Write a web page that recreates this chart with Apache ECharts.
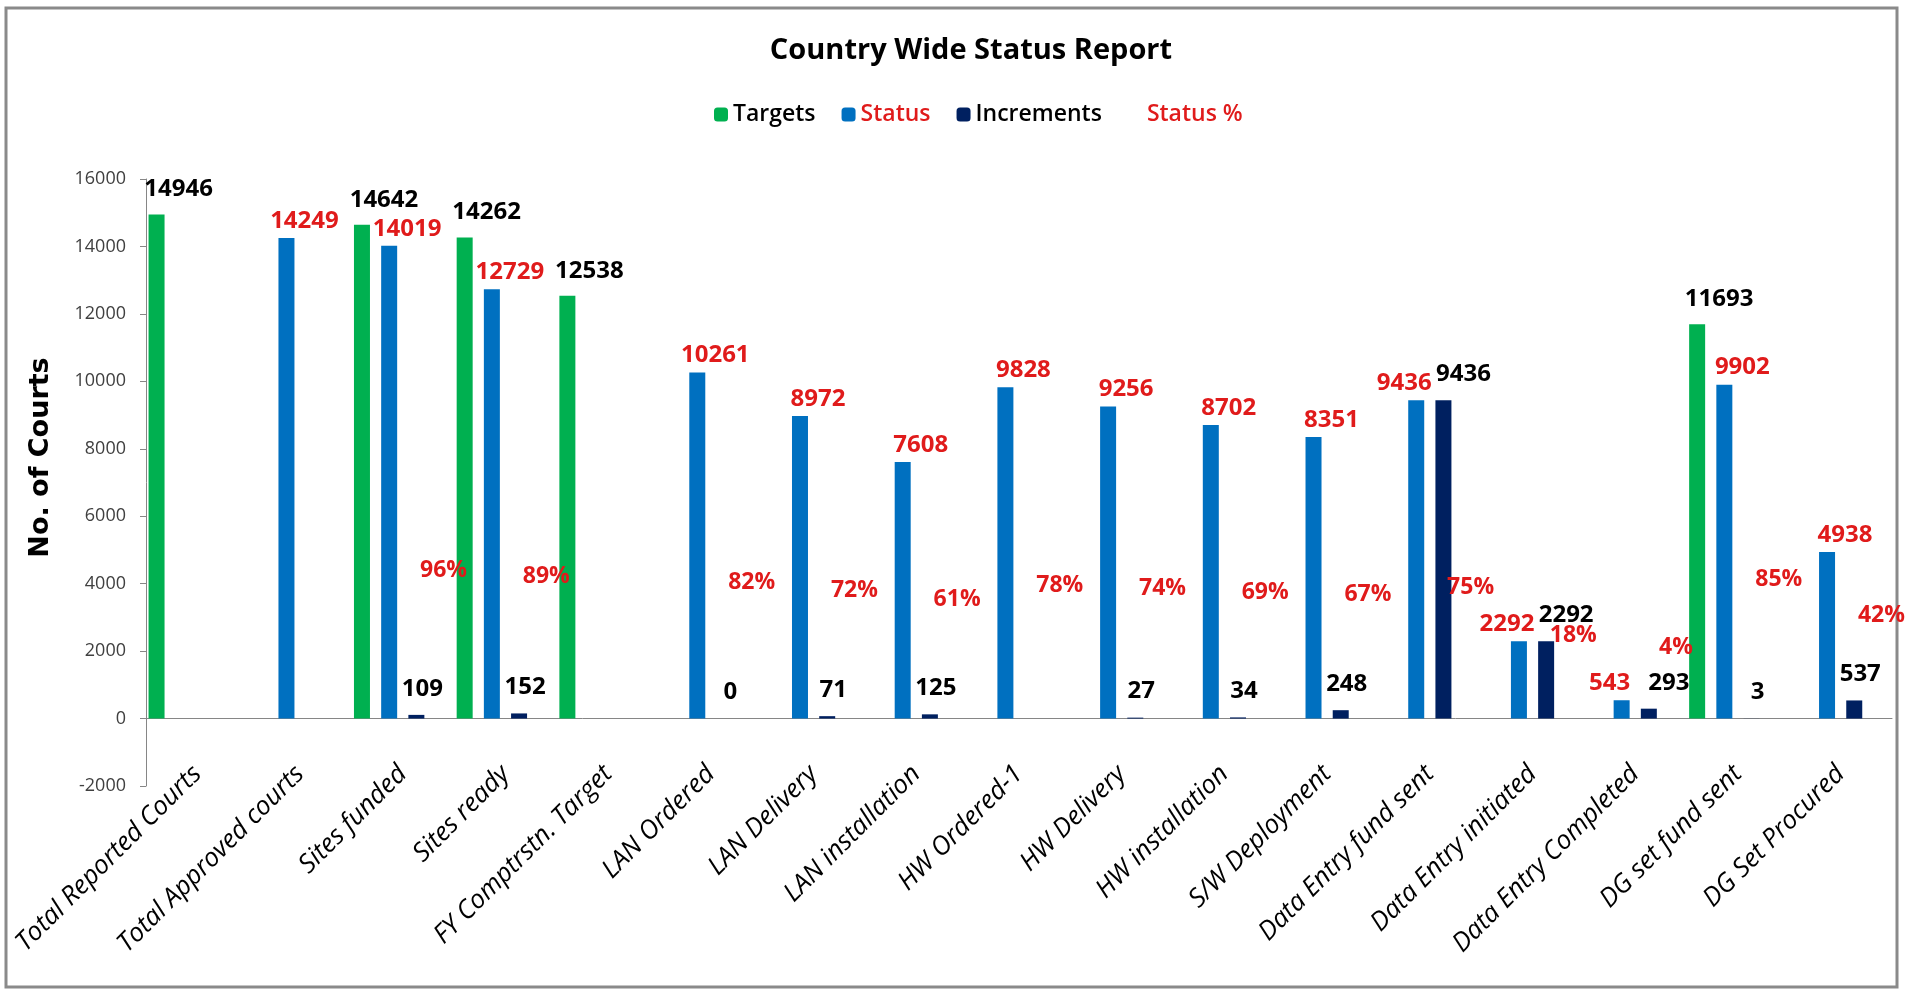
<!DOCTYPE html>
<html>
<head>
<meta charset="utf-8">
<title>Country Wide Status Report</title>
<script src="https://cdn.jsdelivr.net/npm/echarts@6/dist/echarts.min.js"></script>
<style>
  html, body { margin: 0; padding: 0; background: #fff; }
  #main { width: 1906px; height: 990px; }
</style>
</head>
<body>
<div id="main"></div>
<script>
var categories = ['Total Reported Courts', 'Total Approved courts', 'Sites funded', 'Sites ready',
  'FY Comptrstn. Target', 'LAN Ordered', 'LAN Delivery', 'LAN installation', 'HW Ordered-1',
  'HW Delivery', 'HW installation', 'S/W Deployment', 'Data Entry fund sent', 'Data Entry initiated',
  'Data Entry Completed', 'DG set fund sent', 'DG Set Procured']
var targetData = [14946, null, 14642, 14262, 12538, null, null, null, null, null, null, null, null, null, null, 11693, null]
var statusData = [null, 14249, 14019, 12729, null, 10261, 8972, 7608, 9828, 9256, 8702, 8351, 9436, 2292, 543, 9902, 4938]
var incrementData = [null, null, 109, 152, null, 0, 71, 125, null, 27, 34, 248, 9436, 2292, 293, 3, 537]
var statusPct = [null, null, 96, 89, null, 82, 72, 61, 78, 74, 69, 67, 75, 18, 4, 85, 42]
var yMin = -2000
var yMax = 16000
var yStep = 2000

var RED = '#E01B1B'
var labelFont = { fontFamily: 'Open Sans', fontWeight: 'bold', fontSize: 24 }

// status and increment labels push apart when both bars end at about the same height
function closeTwin (i) {
  var s = statusData[i]
  var inc = incrementData[i]
  return s != null && inc != null && Math.abs(s - inc) < 800
}

var myChart = echarts.init(document.getElementById('main'))
myChart.setOption({
  backgroundColor: '#fff',
  animation: false,
  title: {
    text: 'Country Wide Status Report',
    left: 966,
    top: 31,
    textAlign: 'center',
    textStyle: { fontFamily: 'Open Sans', fontWeight: 'bold', fontSize: 29, color: '#000' }
  },
  legend: {
    left: 709,
    top: 98,
    itemWidth: 14,
    itemHeight: 14,
    itemGap: 26,
    textStyle: { fontFamily: 'Open Sans', fontWeight: 600, fontSize: 23 },
    data: [
      { name: 'Targets', textStyle: { color: '#000' } },
      { name: 'Status', textStyle: { color: RED } },
      { name: 'Increments', textStyle: { color: '#000' } },
      { name: 'Status %', icon: 'none', textStyle: { color: RED } }
    ]
  },
  graphic: [
    {
      type: 'rect',
      shape: { x: 6, y: 8, width: 1891, height: 979 },
      style: { fill: 'none', stroke: '#8a8a8a', lineWidth: 3 },
      silent: true
    }
  ],
  grid: {
    left: 146,
    right: 14,
    top: 179,
    bottom: 204,
    containLabel: false,
    outerBoundsMode: 'none'
  },
  xAxis: {
    type: 'category',
    data: categories,
    axisLine: { onZero: true, lineStyle: { color: '#868686' } },
    axisTick: { show: false },
    axisLabel: {
      interval: 0,
      rotate: 45,
      margin: -16,
      color: '#000',
      fontFamily: 'Open Sans',
      fontStyle: 'italic',
      fontSize: 26
    }
  },
  yAxis: [
    {
      type: 'value',
      min: yMin,
      max: yMax,
      interval: yStep,
      name: 'No. of Courts',
      nameLocation: 'middle',
      nameRotate: 90,
      nameGap: 92,
      nameTextStyle: {
        fontFamily: 'DejaVu Sans',
        fontWeight: 'bold',
        fontSize: 27,
        color: '#000',
        padding: [0, 0, 0, 50]
      },
      axisLine: { show: true, lineStyle: { color: '#868686' } },
      axisTick: { show: true, length: 6, lineStyle: { color: '#868686' } },
      splitLine: { show: false },
      axisLabel: {
        color: '#404040',
        fontFamily: 'Open Sans',
        fontSize: 18,
        margin: 20,
        formatter: function (v) { return String(v) }
      }
    },
    {
      // hidden scale that only places the percentage labels
      type: 'value',
      show: false,
      min: -160,
      max: 560,
      splitLine: { show: false }
    }
  ],
  series: [
    {
      name: 'Targets',
      type: 'bar',
      barWidth: 16,
      barGap: '70%',
      data: targetData,
      itemStyle: { color: '#00B050' },
      label: Object.assign({
        show: true,
        position: 'top',
        offset: [22, -8],
        color: '#000',
        formatter: '{c}'
      }, labelFont)
    },
    {
      name: 'Status',
      type: 'bar',
      barWidth: 16,
      barGap: '70%',
      data: statusData,
      itemStyle: { color: '#0070C0' },
      label: Object.assign({
        show: true,
        position: 'top',
        color: RED,
        formatter: '{c}'
      }, labelFont),
      labelLayout: function (p) {
        return { dx: closeTwin(p.dataIndex) ? -12 : 18, dy: 0 }
      }
    },
    {
      name: 'Increments',
      type: 'bar',
      barWidth: 16,
      barGap: '70%',
      data: incrementData,
      itemStyle: { color: '#002060' },
      label: Object.assign({
        show: true,
        position: 'top',
        color: '#000',
        formatter: '{c}'
      }, labelFont),
      labelLayout: function (p) {
        return { dx: closeTwin(p.dataIndex) ? 20 : 6, dy: -9 }
      }
    },
    {
      name: 'Status %',
      type: 'bar',
      yAxisIndex: 1,
      barWidth: 16,
      barGap: '70%',
      data: statusPct,
      itemStyle: { color: 'rgba(0,0,0,0)' },
      label: Object.assign({
        show: true,
        position: ['50%', 0],
        align: 'center',
        verticalAlign: 'middle',
        offset: [0, 0],
        color: RED,
        formatter: '{c}%'
      }, labelFont, { fontSize: 23 })
    }
  ]
})
</script>
</body>
</html>
